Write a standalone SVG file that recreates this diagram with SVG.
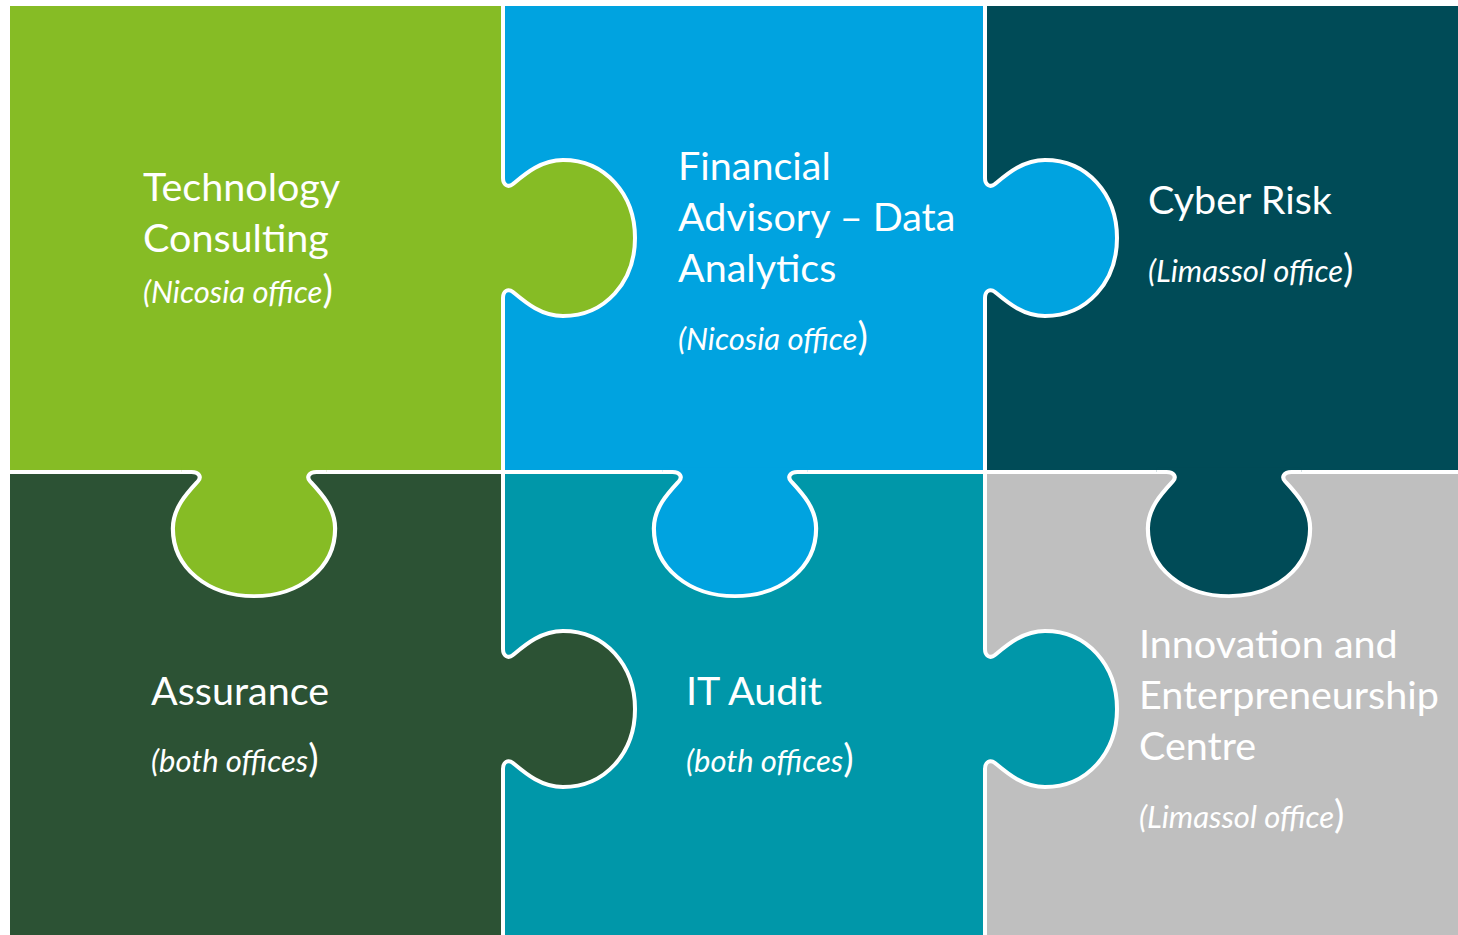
<svg xmlns="http://www.w3.org/2000/svg" xmlns:xlink="http://www.w3.org/1999/xlink" width="1458" height="935" viewBox="0 0 1458 935">
<style>
.h{font-family:Lato,"Open Sans","Liberation Sans",sans-serif;font-size:39.5px;fill:#ffffff}
.s{font-family:Lato,"Open Sans","Liberation Sans",sans-serif;font-size:31px;font-style:italic;fill:#ffffff}
.p{font-style:normal;font-size:39px}
.line{fill:none;stroke:#ffffff;stroke-width:4;stroke-linejoin:round;vector-effect:non-scaling-stroke}
.green{fill:#86bc25}.blue{fill:#00a3e0}.dteal{fill:#004b57}.dgreen{fill:#2c5234}.teal{fill:#0097a9}.gray{fill:#bfbfbf}
</style>
<defs>
<path id="tabfill" d="M -5,-70 L 0,-70 L 0,-60 C 0,-53 5,-50 10,-54 C 22,-64 38,-78 60,-78 C 102,-78 132,-44 132,0 C 132,44 102,78 60,78 C 38,78 22,64 10,54 C 5,50 0,53 0,60 L 0,70 L -5,70 Z"/>
<path id="tabline" d="M 0,-70 L 0,-60 C 0,-53 5,-50 10,-54 C 22,-64 38,-78 60,-78 C 102,-78 132,-44 132,0 C 132,44 102,78 60,78 C 38,78 22,64 10,54 C 5,50 0,53 0,60 L 0,70"/>
</defs>
<rect width="1458" height="935" fill="#ffffff"/>

<g id="node-innovation">
<rect class="gray" x="987" y="474" width="471" height="461"/>
<text class="h" x="1139" y="658">Innovation and</text>
<text class="h" x="1139" y="709">Enterpreneurship</text>
<text class="h" x="1139" y="760">Centre</text>
<text class="s" x="1139" y="828">(Limassol office<tspan class="p">)</tspan></text>
</g>

<g id="node-it-audit">
<rect class="teal" x="505" y="474" width="478" height="461"/>
<g transform="translate(985,709)">
<use xlink:href="#tabfill" class="teal"/>
<use xlink:href="#tabline" class="line"/>
</g>
<text class="h" x="686" y="705">IT Audit</text>
<text class="s" x="686" y="772">(both offices<tspan class="p">)</tspan></text>
</g>

<g id="node-cyber-risk">
<rect class="dteal" x="987" y="6" width="471" height="464"/>
<g transform="translate(1229,472) rotate(90) scale(0.94,1.04)">
<use xlink:href="#tabfill" class="dteal"/>
<use xlink:href="#tabline" class="line"/>
</g>
<text class="h" x="1148" y="214">Cyber Risk</text>
<text class="s" x="1148" y="282">(Limassol office<tspan class="p">)</tspan></text>
</g>

<g id="node-assurance">
<rect class="dgreen" x="10" y="474" width="491" height="461"/>
<g transform="translate(503,709)">
<use xlink:href="#tabfill" class="dgreen"/>
<use xlink:href="#tabline" class="line"/>
</g>
<text class="h" x="151" y="705">Assurance</text>
<text class="s" x="151" y="772">(both offices<tspan class="p">)</tspan></text>
</g>

<g id="node-financial-advisory">
<rect class="blue" x="505" y="6" width="478" height="464"/>
<g transform="translate(985,238)">
<use xlink:href="#tabfill" class="blue"/>
<use xlink:href="#tabline" class="line"/>
</g>
<g transform="translate(735,472) rotate(90) scale(0.94,1.04)">
<use xlink:href="#tabfill" class="blue"/>
<use xlink:href="#tabline" class="line"/>
</g>
<text class="h" x="678" y="180">Financial</text>
<text class="h" x="678" y="231">Advisory – Data</text>
<text class="h" x="678" y="282">Analytics</text>
<text class="s" x="678" y="350">(Nicosia office<tspan class="p">)</tspan></text>
</g>

<g id="node-technology-consulting">
<rect class="green" x="10" y="6" width="491" height="464"/>
<g transform="translate(503,238)">
<use xlink:href="#tabfill" class="green"/>
<use xlink:href="#tabline" class="line"/>
</g>
<g transform="translate(254,472) rotate(90) scale(0.94,1.04)">
<use xlink:href="#tabfill" class="green"/>
<use xlink:href="#tabline" class="line"/>
</g>
<text class="h" x="143" y="201">Technology</text>
<text class="h" x="143" y="252">Consulting</text>
<text class="s" x="143" y="303">(Nicosia office<tspan class="p">)</tspan></text>
</g>
</svg>
